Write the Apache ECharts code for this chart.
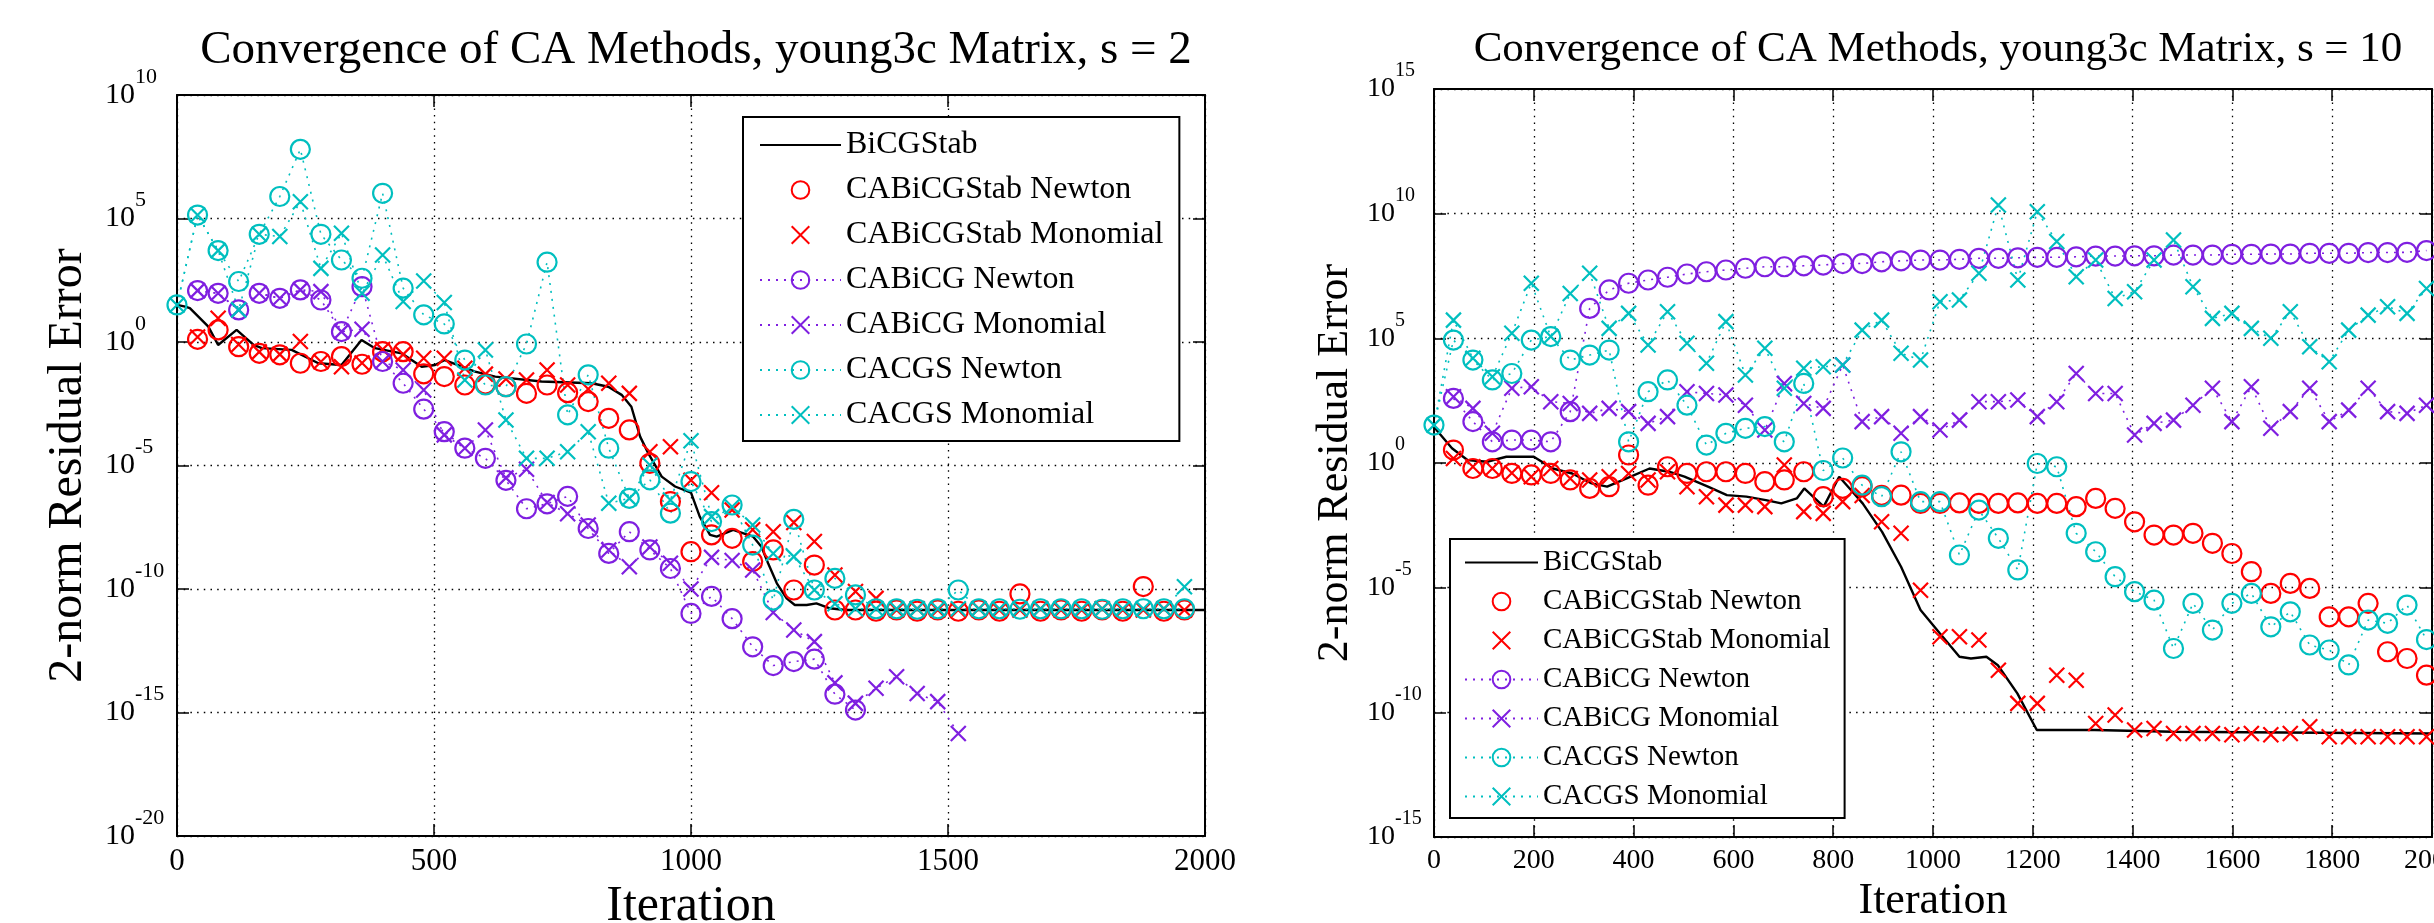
<!DOCTYPE html>
<html>
<head>
<meta charset="utf-8">
<title>Convergence of CA Methods, young3c Matrix</title>
<script src="https://cdn.jsdelivr.net/npm/echarts@6.0.0/dist/echarts.min.js"></script>
<style>
  html, body { margin: 0; padding: 0; background: #fff; }
  #chart { width: 2434px; height: 923px; }
</style>
</head>
<body>
<div id="chart"></div>
<script>
// all values are log10 of the 2-norm residual

// ---- s = 2 (left) ----
const itersS2 = [0, 40, 80, 120, 160, 200, 240, 280, 320, 360, 400, 440, 480, 520, 560, 600, 640, 680, 720, 760,
  800, 840, 880, 920, 960, 1000, 1040, 1080, 1120, 1160, 1200, 1240, 1280, 1320, 1360, 1400, 1440, 1480, 1520, 1560,
  1600, 1640, 1680, 1720, 1760, 1800, 1840, 1880, 1920, 1960, 2000];

const bicgIterS2 = [0, 16, 25, 61, 80, 116, 149, 165, 223, 275, 320, 359, 385, 437, 476, 502, 521, 580, 619, 709,
  807, 839, 865, 884, 901, 917, 943, 969, 1000, 1017, 1037, 1050, 1082, 1121, 1137, 1150, 1167, 1186, 1202, 1225,
  1244, 1270, 1300, 2000];
const bicgS2 = [1.5, 1.43, 1.37, 0.62, -0.12, 0.49, -0.12, -0.25, -0.32, -0.86, -0.93, 0.08, -0.25, -0.46, -1.0, -0.93, -0.73, -1.2, -1.4, -1.6,
  -1.67, -1.81, -2.14, -2.62, -3.83, -4.51, -5.45, -5.85, -6.1, -7.07, -7.81, -7.88, -7.61, -7.88, -8.29, -8.96, -9.77, -10.38, -10.65, -10.65,
  -10.58, -10.78, -10.85, -10.85];

const stabNewtonS2 = [null, 0.11, 0.49, -0.19, -0.46, -0.52, -0.86, -0.79, -0.59, -0.90,
  -0.39, -0.39, -1.29, -1.40, -1.74, -1.70, -1.81, -2.08, -1.74, -2.05,
  -2.41, -3.09, -3.56, -4.91, -6.46, -8.49, -7.81, -7.95, -8.89, -8.42,
  -10.04, -9.03, -10.85, -10.85, -10.9, -10.85, -10.9, -10.85, -10.9, -10.85,
  -10.9, -10.2, -10.9, -10.85, -10.9, -10.85, -10.9, -9.9, -10.9, -10.85];
const stabMonoS2 = [null, 0.2, 0.96, -0.1, -0.4, -0.5, 0.02, -0.8, -1.0, -0.85,
  -0.3, -0.5, -0.66, -0.66, -1.06, -1.3, -1.5, -1.54, -1.13, -1.74,
  -1.9, -1.67, -2.08, -4.44, -4.24, -5.6, -6.1, -6.8, -7.6, -7.68,
  -7.31, -8.08, -9.43, -10.1, -10.38, -10.85, -10.8, -10.85, -10.85, -10.8,
  -10.85, -10.85, -10.8, -10.85, -10.85, -10.8, -10.85, -10.85, -10.8, -10.85];
const bicgNewtonS2 = [null, 2.08, 1.97, 1.30, 1.97, 1.77, 2.11, 1.70, 0.42, 2.24,
  -0.79, -1.67, -2.72, -3.63, -4.30, -4.71, -5.6, -6.75, -6.55, -6.25,
  -7.55, -8.56, -7.68, -8.42, -9.17, -10.99, -10.3, -11.2, -12.34, -13.1,
  -12.94, -12.84, -14.26, -14.9];
const bicgMonoS2 = [null, 2.08, 1.97, 1.30, 1.97, 1.77, 2.11, 2.04, 0.42, 0.52,
  -0.79, -1.13, -1.94, -3.76, -4.3, -3.56, -5.5, -5.15, -6.5, -6.95,
  -7.41, -8.42, -9.1, -8.3, -8.96, -10.0, -8.72, -8.85, -9.23, -10.95,
  -11.66, -12.13, -13.8, -14.63, -14.02, -13.55, -14.23, -14.56, -15.85];
const cgsNewtonS2 = [1.5, 5.14, 3.70, 2.45, 4.36, 5.89, 7.80, 4.36, 3.32, 2.58,
  6.02, 2.18, 1.10, 0.73, -0.73, -1.74, -1.81, -0.08, 3.23, -2.95,
  -1.33, -4.30, -6.33, -5.58, -6.93, -5.65, -7.27, -6.6, -8.22, -10.45,
  -7.18, -10.04, -9.57, -10.24, -10.8, -10.8, -10.82, -10.8, -10.04, -10.8,
  -10.8, -10.82, -10.8, -10.8, -10.8, -10.82, -10.8, -10.8, -10.8, -10.8];
const cgsMonoS2 = [1.5, 5.14, 3.70, 1.30, 4.36, 4.27, 5.68, 2.98, 4.40, 1.97,
  3.52, 1.64, 2.47, 1.60, -1.54, -0.32, -3.16, -4.71, -4.71, -4.44,
  -3.63, -6.53, -6.33, -4.98, -6.4, -4.0, -7.07, -6.67, -7.41, -8.56,
  -8.69, -10.04, -10.6, -10.8, -10.8, -10.8, -10.8, -10.8, -10.8, -10.8,
  -10.8, -10.8, -10.8, -10.8, -10.8, -10.8, -10.8, -10.8, -10.8, -9.91];

// ---- s = 10 (right) ----
const itersS10 = [0, 39, 78, 117, 156, 195, 234, 273, 312, 351, 390, 429, 468, 507, 546, 585, 624, 663, 702, 741,
  780, 819, 858, 897, 936, 975, 1014, 1053, 1092, 1131, 1170, 1209, 1248, 1287, 1326, 1365, 1404, 1443, 1482, 1521,
  1560, 1599, 1638, 1677, 1716, 1755, 1794, 1833, 1872, 1911, 1950, 1989];

const bicgIterS10 = [0, 5, 36, 67, 106, 145, 200, 238, 277, 316, 347, 386, 432, 471, 502, 549, 587, 626, 665, 696,
  727, 742, 781, 812, 836, 859, 898, 936, 975, 1014, 1053, 1076, 1107, 1130, 1169, 1208, 1324, 1480, 2000];
const bicgS10 = [1.52, 1.32, 0.59, 0.12, 0.05, 0.25, 0.25, -0.22, -0.42, -0.82, -0.95, -0.62, -0.22, -0.35, -0.55, -0.95, -1.29, -1.35, -1.49, -1.62,
  -1.42, -1.02, -1.75, -0.55, -1.09, -1.62, -2.76, -4.16, -5.9, -6.84, -7.77, -7.84, -7.77, -8.11, -9.24, -10.71, -10.71, -10.78, -10.85];

const stabNewtonS10 = [null, 0.52, -0.22, -0.22, -0.42, -0.48, -0.42, -0.68, -1.02, -0.95,
  0.32, -0.89, -0.15, -0.42, -0.35, -0.35, -0.42, -0.75, -0.68, -0.35,
  -1.35, -1.02, -0.95, -1.3, -1.29, -1.62, -1.62, -1.6, -1.62, -1.62,
  -1.6, -1.62, -1.62, -1.75, -1.42, -1.82, -2.36, -2.89, -2.89, -2.82,
  -3.22, -3.63, -4.36, -5.23, -4.83, -5.03, -6.17, -6.17, -5.63, -7.57,
  -7.84, -8.51];
const stabMonoS10 = [null, 0.18, -0.15, -0.22, -0.4, -0.55, -0.22, -0.62, -0.68, -0.55,
  -0.42, -0.68, -0.35, -0.95, -1.35, -1.69, -1.69, -1.75, -0.08, -1.95,
  -2.02, -1.55, -1.3, -2.36, -2.82, -5.10, -6.97, -6.97, -7.10, -8.31,
  -9.64, -9.64, -8.51, -8.71, -10.45, -10.11, -10.71, -10.65, -10.85, -10.85,
  -10.85, -10.9, -10.85, -10.9, -10.85, -10.58, -10.98, -10.98, -10.98, -10.98,
  -10.98, -10.98];
const bicgNewtonS10 = [null, 2.59, 1.66, 0.85, 0.92, 0.92, 0.85, 2.06, 6.20, 6.94,
  7.21, 7.34, 7.45, 7.58, 7.67, 7.74, 7.81, 7.87, 7.87, 7.91,
  7.94, 8.0, 8.0, 8.07, 8.11, 8.14, 8.14, 8.17, 8.21, 8.21,
  8.23, 8.25, 8.25, 8.27, 8.30, 8.30, 8.31, 8.31, 8.34, 8.34,
  8.34, 8.37, 8.37, 8.38, 8.38, 8.41, 8.41, 8.41, 8.44, 8.44,
  8.45, 8.52];
const bicgMonoS10 = [null, 2.66, 2.19, 1.19, 3.0, 3.06, 2.46, 2.39, 1.99, 2.19,
  2.06, 1.59, 1.86, 2.86, 2.79, 2.73, 2.32, 1.32, 3.19, 2.39,
  2.19, 3.93, 1.66, 1.86, 1.19, 1.86, 1.32, 1.72, 2.46, 2.46,
  2.53, 1.86, 2.46, 3.59, 2.79, 2.79, 1.12, 1.59, 1.72, 2.32,
  3.0, 1.66, 3.06, 1.39, 2.06, 3.0, 1.66, 2.12, 3.0, 2.06,
  1.99, 2.32];
const cgsNewtonS10 = [1.52, 4.93, 4.13, 3.33, 3.59, 4.93, 5.07, 4.13, 4.33, 4.53,
  0.85, 2.86, 3.33, 2.32, 0.72, 1.19, 1.39, 1.46, 0.85, 3.19,
  -0.3, 0.2, -0.89, -1.35, 0.45, -1.55, -1.55, -3.69, -1.89, -3.02,
  -4.29, -0.02, -0.15, -2.82, -3.56, -4.56, -5.16, -5.5, -7.44, -5.63,
  -6.70, -5.63, -5.23, -6.57, -5.97, -7.30, -7.50, -8.1, -6.30, -6.43,
  -5.7, -7.08];
const cgsMonoS10 = [1.52, 5.73, 4.2, 3.46, 5.2, 7.21, 5.07, 6.80, 7.61, 5.4,
  6.0, 4.73, 6.07, 4.8, 4.0, 5.67, 3.53, 4.6, 3.0, 3.8,
  3.86, 3.93, 5.33, 5.73, 4.4, 4.13, 6.47, 6.54, 7.61, 10.35,
  7.34, 10.08, 8.88, 7.47, 8.14, 6.6, 6.87, 8.14, 8.94, 7.07,
  5.8, 6.0, 5.4, 5.0, 6.07, 4.66, 4.06, 5.33, 5.93, 6.27,
  6.0, 7.0];

const yTicksS2 = [-20, -15, -10, -5, 0, 5, 10];
const yTicksS10 = [-15, -10, -5, 0, 5, 10, 15];

const names = ['BiCGStab', 'CABiCGStab Newton', 'CABiCGStab Monomial', 'CABiCG Newton',
  'CABiCG Monomial', 'CACGS Newton', 'CACGS Monomial'];

const FONT = 'Liberation Serif';
const RED = '#ff0000', PURPLE = '#7f1fe0', CYAN = '#00bfbf';
const CROSS = 'path://M0,0L10,10M0,10L10,0';

function pts(iters, vals) {
  const out = [];
  vals.forEach(function (v, i) {
    if (v !== null) out.push([iters[i], v]);
  });
  return out;
}

function lineSeries(g, data) {
  // transparent item colour so the legend shows only the line
  return {
    name: names[0], type: 'line', xAxisIndex: g, yAxisIndex: g, data: data,
    symbol: 'none', lineStyle: { color: '#000', width: 2.4 },
    itemStyle: { color: 'transparent', borderWidth: 0 },
    emphasis: { disabled: true }
  };
}

function caSeries(name, g, color, mark, dotted, data) {
  return {
    name: name, type: 'line', xAxisIndex: g, yAxisIndex: g, data: data,
    symbol: mark === 'o' ? 'circle' : CROSS,
    symbolSize: mark === 'o' ? 19 : 15,
    itemStyle: { color: 'transparent', borderColor: color, borderWidth: 2.2 },
    lineStyle: dotted ? { color: color, width: 1.6, type: [2, 6] } : { color: color, width: 0 },
    emphasis: { disabled: true }
  };
}

function seriesFor(g, iters, bIt, b, a1, a2, a3, a4, a5, a6) {
  return [
    lineSeries(g, pts(bIt, b)),
    caSeries(names[1], g, RED, 'o', false, pts(iters, a1)),
    caSeries(names[2], g, RED, 'x', false, pts(iters, a2)),
    caSeries(names[3], g, PURPLE, 'o', true, pts(iters, a3)),
    caSeries(names[4], g, PURPLE, 'x', true, pts(iters, a4)),
    caSeries(names[5], g, CYAN, 'o', true, pts(iters, a5)),
    caSeries(names[6], g, CYAN, 'x', true, pts(iters, a6))
  ];
}

function xAxisFor(g, interval, fs, nameFs, nameGap, top) {
  return {
    type: 'value', gridIndex: g, min: 0, max: 2000, interval: interval,
    position: top ? 'top' : 'bottom',
    name: top ? '' : 'Iteration', nameLocation: 'middle', nameGap: nameGap,
    nameTextStyle: { fontFamily: FONT, fontSize: nameFs, color: '#000' },
    axisLine: { show: true, onZero: false, lineStyle: { color: '#000', width: 2 } },
    axisTick: { show: true, inside: true, length: 12, lineStyle: { color: '#000', width: 1.5 } },
    axisLabel: { show: !top, fontFamily: FONT, fontSize: fs, color: '#000', margin: 10,
      showMinLabel: true, showMaxLabel: true,
      formatter: function (v) { return String(v); } },
    splitLine: { show: !top, lineStyle: { color: '#000', width: 1.3, type: [1.5, 5.2] } }
  };
}

function yAxisFor(g, ticks, fs, nameFs, margin, nameGap, right) {
  return {
    type: 'value', gridIndex: g, min: ticks[0], max: ticks[ticks.length - 1], interval: 5,
    position: right ? 'right' : 'left',
    name: right ? '' : '2-norm Residual Error', nameLocation: 'middle', nameGap: nameGap,
    nameTextStyle: { fontFamily: FONT, fontSize: nameFs, color: '#000' },
    axisLine: { show: true, onZero: false, lineStyle: { color: '#000', width: 2 } },
    axisTick: { show: true, inside: true, length: 12, lineStyle: { color: '#000', width: 1.5 } },
    axisLabel: {
      show: !right, align: 'left', margin: margin,
      formatter: function (v) { return '{b|10}{s|' + v + '}'; },
      rich: {
        b: { fontFamily: FONT, fontSize: fs, color: '#000' },
        s: { fontFamily: FONT, fontSize: Math.round(fs * 0.72), color: '#000', padding: [0, 0, 36, 0] }
      }
    },
    splitLine: { show: !right, lineStyle: { color: '#000', width: 1.3, type: [1.5, 5.2] } }
  };
}

function legendFor(left, top, fs, itemWidth, gap, padding) {
  return {
    orient: 'vertical', left: left, top: top, data: names,
    selectedMode: false, itemWidth: itemWidth, itemHeight: 22, itemGap: gap,
    padding: padding, backgroundColor: '#fff', borderColor: '#000', borderWidth: 2,
    textStyle: { fontFamily: FONT, fontSize: fs, color: '#000' }
  };
}

const chart = echarts.init(document.getElementById('chart'));
chart.setOption({
  backgroundColor: '#fff',
  animation: false,
  title: [
    { text: 'Convergence of CA Methods, young3c Matrix, s = 2', left: 691, top: 22, textAlign: 'center',
      textStyle: { fontFamily: FONT, fontSize: 47, fontWeight: 'normal', color: '#000' } },
    { text: 'Convergence of CA Methods, young3c Matrix, s = 10', left: 1933, top: 23, textAlign: 'center',
      textStyle: { fontFamily: FONT, fontSize: 43, fontWeight: 'normal', color: '#000' } }
  ],
  // fixed plot boxes; labels may run off the canvas edge as in the original
  grid: [
    { left: 177, top: 95, width: 1028, height: 741, containLabel: false, outerBoundsMode: 'none' },
    { left: 1434, top: 89, width: 998, height: 748, containLabel: false, outerBoundsMode: 'none' }
  ],
  legend: [
    legendFor(743, 117, 32, 81, 13, [12, 16, 10, 16]),
    legendFor(1450, 539, 29, 73, 10, [9, 14, 7, 14])
  ],
  xAxis: [
    xAxisFor(0, 500, 31, 50, 42, false),
    xAxisFor(1, 200, 28, 44, 39, false),
    xAxisFor(0, 500, 31, 50, 42, true),
    xAxisFor(1, 200, 28, 44, 39, true)
  ],
  yAxis: [
    yAxisFor(0, yTicksS2, 30, 48, 72, 85, false),
    yAxisFor(1, yTicksS10, 28, 44, 67, 77, false),
    yAxisFor(0, yTicksS2, 30, 48, 72, 85, true),
    yAxisFor(1, yTicksS10, 28, 44, 67, 77, true)
  ],
  series: seriesFor(0, itersS2, bicgIterS2, bicgS2, stabNewtonS2, stabMonoS2, bicgNewtonS2, bicgMonoS2, cgsNewtonS2, cgsMonoS2)
    .concat(seriesFor(1, itersS10, bicgIterS10, bicgS10, stabNewtonS10, stabMonoS10, bicgNewtonS10, bicgMonoS10, cgsNewtonS10, cgsMonoS10))
});
</script>
</body>
</html>
